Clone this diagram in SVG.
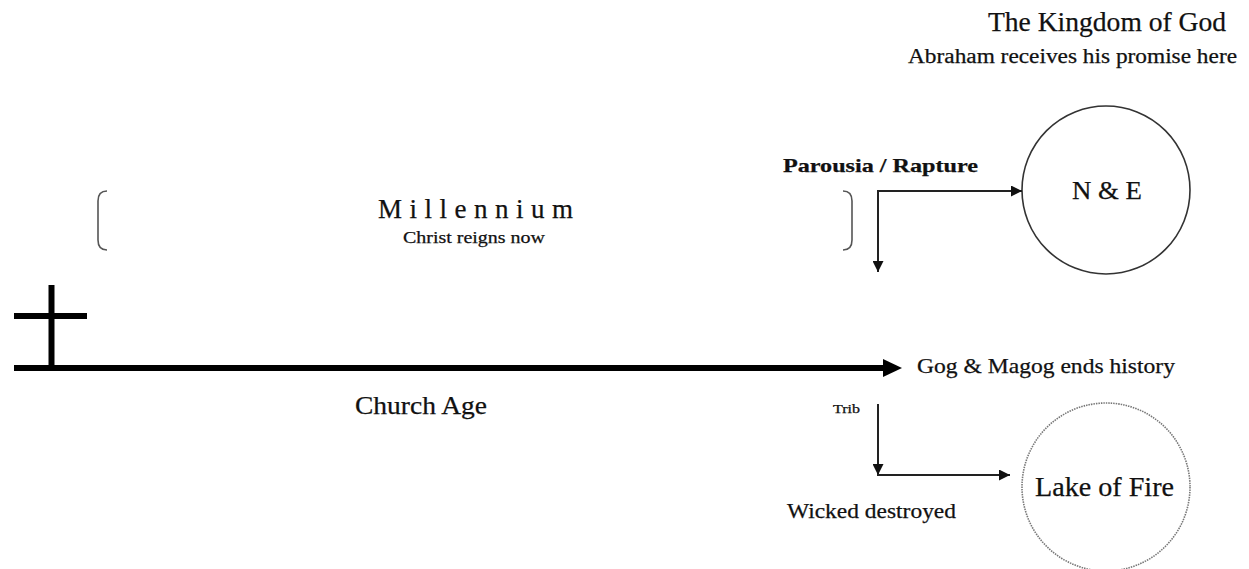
<svg xmlns="http://www.w3.org/2000/svg" width="1249" height="569" viewBox="0 0 1249 569">
<style>
text{font-family:"Liberation Serif","Times New Roman",serif;fill:#111;stroke:#111;stroke-width:0.25}
.thin{stroke:#222;stroke-width:2;fill:none}
.brk{stroke:#555;stroke-width:1.6;fill:none}
.bold{font-weight:bold}
</style>
<defs>
<marker id="ah" viewBox="0 0 10 10" refX="10" refY="5" markerWidth="5.5" markerHeight="5.5" orient="auto" markerUnits="strokeWidth">
<path d="M0,0 L10,5 L0,10 Z" fill="#111"/>
</marker>
</defs>
<rect width="1249" height="569" fill="#fff"/>

<g id="title">
<text x="988" y="31" font-size="28" textLength="238" lengthAdjust="spacingAndGlyphs" stroke-width="0.4">The Kingdom of God</text>
<text x="908" y="63" font-size="20" textLength="329" lengthAdjust="spacingAndGlyphs">Abraham receives his promise here</text>
</g>

<g id="millennium">
<path class="brk" d="M107,191 Q98,191 98,201 L98,240 Q98,250 107,250"/>
<path class="brk" d="M843,191 Q852,191 852,201 L852,240 Q852,250 843,250"/>
<text x="378" y="218" font-size="27" textLength="195" lengthAdjust="spacing">Millennium</text>
<text x="403" y="243" font-size="17" textLength="142" lengthAdjust="spacingAndGlyphs">Christ reigns now</text>
</g>

<g id="cross">
<line x1="51.5" y1="285" x2="51.5" y2="369" stroke="#000" stroke-width="6"/>
<line x1="14" y1="316" x2="87" y2="316" stroke="#000" stroke-width="6"/>
</g>

<g id="timeline">
<line x1="14" y1="368" x2="885" y2="368" stroke="#000" stroke-width="6"/>
<polygon points="883,359 902,368 883,377" fill="#000"/>
<text x="355" y="414" font-size="25" textLength="132" lengthAdjust="spacingAndGlyphs">Church Age</text>
<text x="917" y="373" font-size="21" textLength="258" lengthAdjust="spacingAndGlyphs">Gog &amp; Magog ends history</text>
</g>

<g id="parousia">
<text class="bold" x="783" y="172" font-size="19" textLength="195" lengthAdjust="spacingAndGlyphs">Parousia / Rapture</text>
</g>

<g id="ne">
<circle cx="1106" cy="190" r="84" fill="none" stroke="#333" stroke-width="1.6"/>
<text x="1107" y="199" font-size="25" text-anchor="middle" textLength="70" lengthAdjust="spacingAndGlyphs">N &amp; E</text>
</g>

<g id="lake">
<circle cx="1106" cy="487" r="84" fill="none" stroke="#777" stroke-width="1.6" stroke-dasharray="1.5 1"/>
<text x="1035" y="496" font-size="27" textLength="139" lengthAdjust="spacingAndGlyphs" stroke-width="0.6">Lake of Fire</text>
</g>

<g id="trib">
<text x="833" y="413" font-size="12" textLength="27" lengthAdjust="spacingAndGlyphs" stroke-width="0.1">Trib</text>
<text x="787" y="518" font-size="21" textLength="169" lengthAdjust="spacingAndGlyphs">Wicked destroyed</text>
</g>

<g id="connectors">
<path class="thin" d="M878,191 L1022,191" marker-end="url(#ah)"/>
<path class="thin" d="M878,190 L878,272" marker-end="url(#ah)"/>
<path class="thin" d="M878,404 L878,475" marker-end="url(#ah)"/>
<path class="thin" d="M877,475 L1010,475" marker-end="url(#ah)"/>
</g>
</svg>
